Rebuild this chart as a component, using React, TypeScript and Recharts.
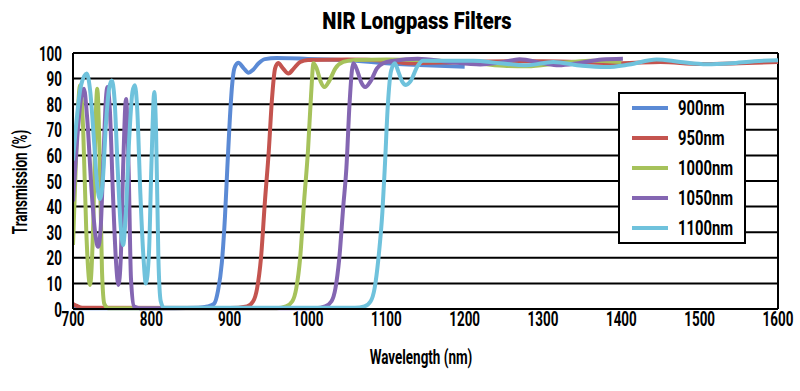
import { LineChart, Line, XAxis, YAxis, CartesianGrid, Legend, ReferenceLine, Label } from 'recharts';

const FONT = "Roboto, 'DejaVu Sans', sans-serif";

const xTicks = [700, 800, 900, 1000, 1100, 1200, 1300, 1400, 1500, 1600];
const yTicks = [0, 10, 20, 30, 40, 50, 60, 70, 80, 90, 100];

// 900nm
const wl900 = [700, 800, 860, 872, 880, 885, 890, 894, 897, 900, 903, 906, 911, 918, 924, 930, 937, 945, 960, 1000, 1050, 1100, 1150, 1200];
const t900 = [0.3, 0.3, 0.5, 1, 2, 7, 18, 36, 55, 73, 87, 94, 96.2, 94, 92.3, 93.5, 96, 97.6, 98, 97.7, 97.2, 96, 95.2, 94.6];

// 950nm
const wl950 = [700, 705, 712, 900, 922, 930, 935, 940, 945, 950, 954, 958, 962, 968, 975, 982, 990, 1000, 1050, 1100, 1130, 1200, 1300, 1400, 1450, 1500, 1550, 1600];
const t950 = [2, 1.2, 0.5, 0.4, 1, 3, 8, 20, 42, 62, 82, 94, 96.1, 94, 92, 94, 96.5, 97.3, 97.5, 97, 96, 96.5, 96.8, 96, 96.5, 95.7, 96, 96.5];

// 1000nm
const wl1000 = [700, 704, 709, 713, 717, 721.7, 726, 729, 731, 734, 737, 740, 745, 960, 972, 980, 985, 990, 995, 1000, 1004, 1007, 1011, 1016, 1021, 1027, 1035, 1045, 1060, 1100, 1150, 1200, 1250, 1280, 1320, 1360, 1400];
const t1000 = [25, 60, 87.4, 70, 30, 9.4, 35, 75, 86, 60, 15, 2, 0.3, 0.3, 1, 3, 8, 20, 42, 62, 84, 96, 94, 89, 86.7, 89, 94, 96.5, 97.3, 97.5, 97.2, 96.5, 95, 94.8, 96, 97, 96.5];

// 1050nm
const wl1050 = [700, 705, 710, 714, 718, 724, 729, 732, 735, 739, 742, 744, 747, 751, 755, 758, 761, 764, 767.7, 771, 774, 778, 785, 1010, 1022, 1030, 1035, 1040, 1045, 1049, 1053, 1056, 1058, 1063, 1068, 1073, 1080, 1088, 1096, 1110, 1140, 1180, 1220, 1250, 1270, 1300, 1320, 1345, 1375, 1402];
const t1050 = [42, 65, 82, 86, 75, 45, 28, 24.3, 30, 60, 82, 86.7, 78, 45, 18, 9.4, 20, 55, 82, 55, 12, 1, 0.3, 0.3, 1, 3, 8, 20, 40, 55, 80, 93, 96, 93, 88.5, 86.7, 89, 94, 96, 97, 97.8, 96.5, 95.5, 96.5, 97.6, 96, 95.2, 96, 97.5, 97.8];

// 1100nm
const wl1100 = [700, 705, 710, 717.5, 722, 727, 731, 734.5, 738, 742, 746, 749.4, 753, 757, 761, 764, 767, 772, 776, 779, 782, 786, 790, 793, 797, 800, 803.8, 806, 809, 812, 816, 1060, 1072, 1080, 1085, 1090, 1095, 1098, 1102, 1106, 1111, 1115, 1120, 1125, 1131, 1140, 1147, 1180, 1211, 1245, 1279, 1313, 1350, 1381, 1410, 1445, 1475, 1509, 1540, 1570, 1600];
const t1100 = [58, 75, 87, 92, 85, 65, 48, 43, 50, 72, 86, 89.3, 82, 55, 32, 25, 35, 68, 85, 87.4, 78, 45, 20, 10, 22, 55, 84.8, 70, 20, 3, 0.5, 0.5, 1, 3, 8, 20, 38, 55, 80, 93, 96, 93, 89, 87.5, 89, 95, 97, 97, 97, 96, 95.2, 96.5, 95, 94.5, 95.5, 97.5, 96.5, 95.6, 96, 96.8, 97.2];

const series = [
  { name: '900nm', color: '#5b8ad5', wl: wl900, t: t900 },
  { name: '950nm', color: '#c4544f', wl: wl950, t: t950 },
  { name: '1000nm', color: '#a6c25b', wl: wl1000, t: t1000 },
  { name: '1050nm', color: '#8466b2', wl: wl1050, t: t1050 },
  { name: '1100nm', color: '#6fc2dc', wl: wl1100, t: t1100 },
];

const toPoints = (wl: number[], t: number[]) => wl.map((w, i) => ({ wl: w, t: t[i] }));

// the original uses a condensed face, so squeeze a regular one
function NarrowText({ x, y, anchor = 'middle', size = 21, weight = 700, squeeze = 0.64, rotate = 0, children }: any) {
  return (
    <text
      transform={`translate(${x},${y}) rotate(${rotate}) scale(${squeeze},1)`}
      textAnchor={anchor}
      fontFamily={FONT}
      fontSize={size}
      fontWeight={weight}
      fill="#000"
    >
      {children}
    </text>
  );
}

const XTick = ({ x, y, payload }: any) => (
  <NarrowText x={x} y={y + 11}>
    {payload.value}
  </NarrowText>
);

const YTick = ({ x, y, payload }: any) => (
  <NarrowText x={x} y={y + 7.5} anchor="end">
    {payload.value}
  </NarrowText>
);

function LegendBox() {
  return (
    <div
      style={{
        width: 124,
        height: 148,
        border: '2px solid #000',
        background: '#fff',
        fontFamily: FONT,
        fontWeight: 700,
        fontSize: 20,
        color: '#000',
        boxSizing: 'content-box',
      }}
    >
      {series.map((s, i) => (
        <div
          key={s.name}
          style={{ position: 'absolute', left: 14, top: 3 + i * 30, height: 26, display: 'flex', alignItems: 'center' }}
        >
          <div style={{ width: 36, height: 4, background: s.color, marginRight: 10 }} />
          <span style={{ display: 'inline-block', transform: 'scaleX(0.74)', transformOrigin: 'left center' }}>
            {s.name}
          </span>
        </div>
      ))}
    </div>
  );
}

export default function App() {
  return (
    <div style={{ position: 'absolute', left: 0, top: 0, width: 800, height: 391, background: '#fff' }}>
      <svg width={800} height={40} style={{ position: 'absolute', left: 0, top: 0 }}>
        <NarrowText x={417} y={29} size={24} weight={900} squeeze={0.84}>
          NIR Longpass Filters
        </NarrowText>
      </svg>
      <LineChart width={800} height={391} margin={{ top: 53, right: 22, bottom: 22, left: 0 }}>
        <CartesianGrid vertical={false} stroke="#000" strokeWidth={2} />
        <XAxis
          type="number"
          dataKey="wl"
          domain={[700, 1600]}
          ticks={xTicks}
          interval={0}
          allowDataOverflow
          height={60}
          tickLine={false}
          tickMargin={0}
          axisLine={{ stroke: '#000', strokeWidth: 2 }}
          tick={<XTick />}
        >
          <Label
            content={() => (
              <NarrowText x={421} y={364}>
                Wavelength (nm)
              </NarrowText>
            )}
          />
        </XAxis>
        <YAxis
          type="number"
          domain={[0, 100]}
          ticks={yTicks}
          interval={0}
          width={73}
          tickLine={false}
          tickMargin={5}
          axisLine={{ stroke: '#000', strokeWidth: 2 }}
          tick={<YTick />}
        >
          <Label
            content={() => (
              <NarrowText x={26.5} y={182} rotate={-90}>
                Transmission (%)
              </NarrowText>
            )}
          />
        </YAxis>
        <ReferenceLine x={1600} stroke="#000" strokeWidth={2} />
        {series.map((s) => (
          <Line
            key={s.name}
            data={toPoints(s.wl, s.t)}
            dataKey="t"
            name={s.name}
            type="monotone"
            stroke={s.color}
            strokeWidth={4}
            dot={false}
            activeDot={false}
            isAnimationActive={false}
          />
        ))}
        <Legend
          layout="vertical"
          align="center"
          verticalAlign="middle"
          content={() => <LegendBox />}
          wrapperStyle={{ left: 618, top: 92, width: 128, height: 152, position: 'absolute' }}
        />
      </LineChart>
    </div>
  );
}
